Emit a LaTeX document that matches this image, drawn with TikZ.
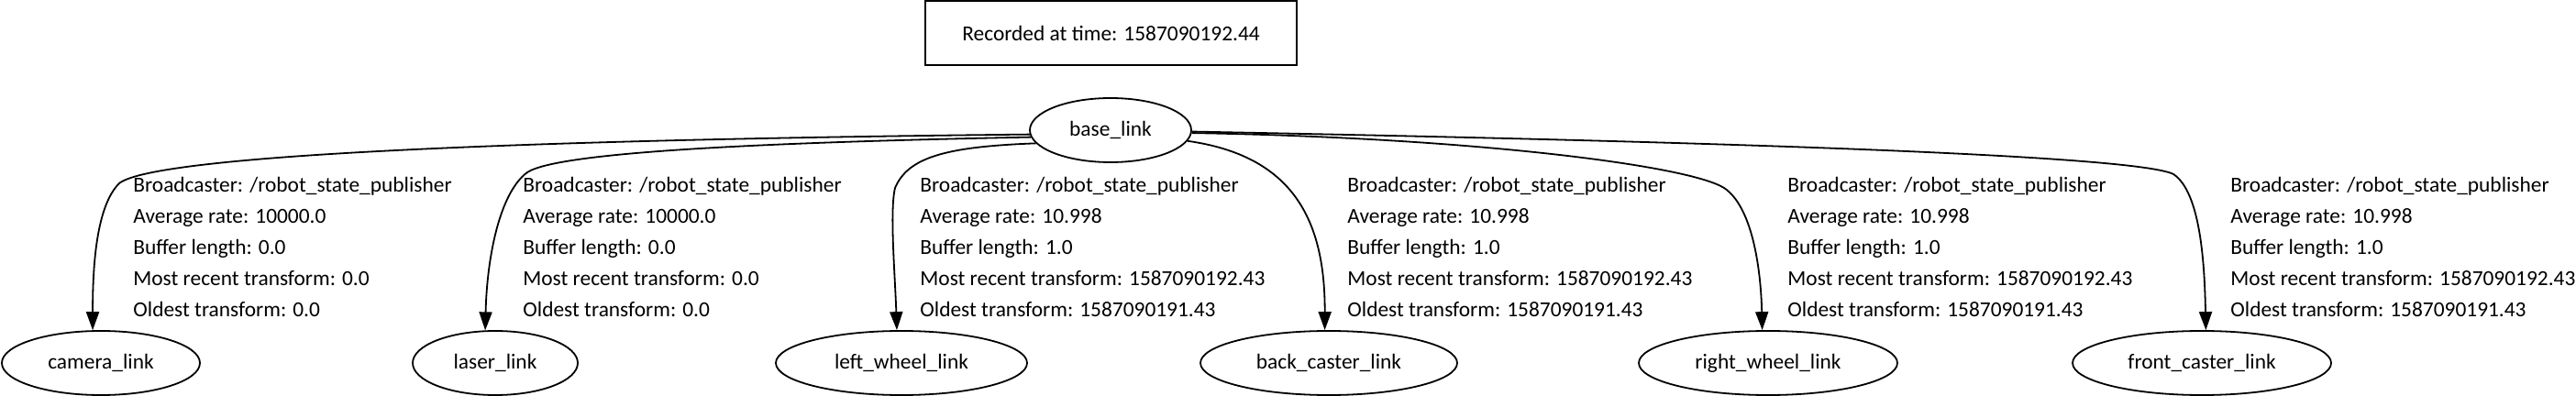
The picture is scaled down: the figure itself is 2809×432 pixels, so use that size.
\documentclass[tikz,border=0pt]{standalone}
\usepackage{fontspec}
\setmainfont{Carlito}
\usetikzlibrary{shapes.geometric,arrows.meta}

\begin{document}
\begin{tikzpicture}[x=0.5pt,y=-0.5pt,>={Triangle[length=10pt,width=7pt]},
  font=\fontsize{11.7}{17}\selectfont,
  frame/.style={ellipse,draw,line width=0.9pt,minimum height=35pt,inner sep=0pt},
  edge/.style={->,line width=0.9pt},
  info/.style={anchor=north west,inner sep=0pt,align=left}]
 \useasboundingbox (0,0) rectangle (2809,432);
 \node[draw,line width=0.9pt,minimum width=202.5pt,minimum height=35pt]
   (stamp) at (1211.5,36) {Recorded at time: 1587090192.44};
 % frames
 \node[frame,minimum width=88pt] (base) at (1211,142) {base\_link};
 \node[frame,minimum width=108pt] (camera) at (110,396) {camera\_link};
 \node[frame,minimum width=90pt] (laser) at (540,396) {laser\_link};
 \node[frame,minimum width=137pt] (leftw) at (983,396) {left\_wheel\_link};
 \node[frame,minimum width=140pt] (backc) at (1449,396) {back\_caster\_link};
 \node[frame,minimum width=141pt] (rightw) at (1928,396) {right\_wheel\_link};
 \node[frame,minimum width=141pt] (frontc) at (2401,396) {front\_caster\_link};
 % transforms
 \draw[edge] (base.183) .. controls (600,152) and (170,168) .. (130,200)
   .. controls (105,225) and (101,290) .. (camera.104);
 \draw[edge] (base.185) .. controls (850,155) and (610,165) .. (575,188)
   .. controls (545,210) and (531,280) .. (laser.107);
 \draw[edge] (base.190) .. controls (1030,160) and (990,172) .. (976,205)
   .. controls (970,230) and (976,300) .. (leftw.98);
 \draw[edge] (base.-8) .. controls (1410,170) and (1445,240) .. (backc.97);
 \draw[edge] (base.-2) .. controls (1600,150) and (1840,180) .. (1880,205)
   .. controls (1910,225) and (1920,290) .. (rightw.100);
 \draw[edge] (base.-1) .. controls (1900,155) and (2330,170) .. (2370,190)
   .. controls (2400,210) and (2404,290) .. (frontc.83);
 % edge labels
 \node[info] (camerainfo) at (145,193) {Broadcaster: /robot\_state\_publisher\\
   Average rate: 10000.0\\ Buffer length: 0.0\\
   Most recent transform: 0.0\\ Oldest transform: 0.0};
 \node[info] (laserinfo) at (570,193) {Broadcaster: /robot\_state\_publisher\\
   Average rate: 10000.0\\ Buffer length: 0.0\\
   Most recent transform: 0.0\\ Oldest transform: 0.0};
 \node[info] (leftwinfo) at (1003,193) {Broadcaster: /robot\_state\_publisher\\
   Average rate: 10.998\\ Buffer length: 1.0\\
   Most recent transform: 1587090192.43\\ Oldest transform: 1587090191.43};
 \node[info] (backcinfo) at (1469,193) {Broadcaster: /robot\_state\_publisher\\
   Average rate: 10.998\\ Buffer length: 1.0\\
   Most recent transform: 1587090192.43\\ Oldest transform: 1587090191.43};
 \node[info] (rightwinfo) at (1949,193) {Broadcaster: /robot\_state\_publisher\\
   Average rate: 10.998\\ Buffer length: 1.0\\
   Most recent transform: 1587090192.43\\ Oldest transform: 1587090191.43};
 \node[info] (frontcinfo) at (2432,193) {Broadcaster: /robot\_state\_publisher\\
   Average rate: 10.998\\ Buffer length: 1.0\\
   Most recent transform: 1587090192.43\\ Oldest transform: 1587090191.43};
\end{tikzpicture}
\end{document}
